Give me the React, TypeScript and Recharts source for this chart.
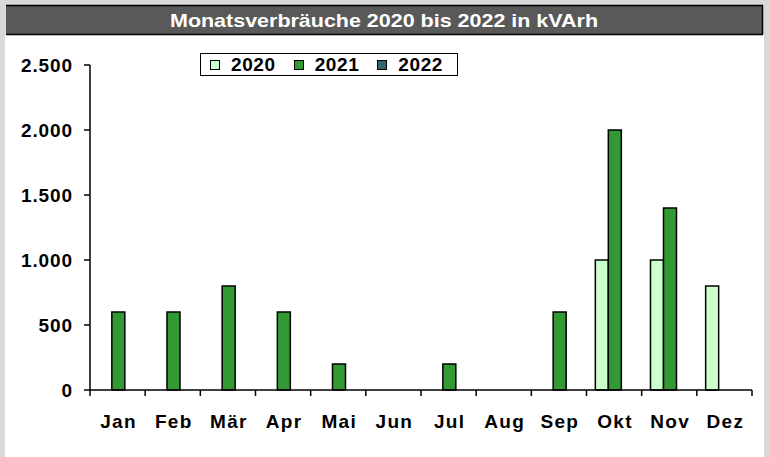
import React from 'react';
import { BarChart, Bar, XAxis, YAxis, Legend } from 'recharts';

const months = ['Jan', 'Feb', 'Mär', 'Apr', 'Mai', 'Jun', 'Jul', 'Aug', 'Sep', 'Okt', 'Nov', 'Dez'];
const values2020 = [0, 0, 0, 0, 0, 0, 0, 0, 0, 1000, 1000, 800];
const values2021 = [600, 600, 800, 600, 200, 0, 200, 0, 600, 2000, 1400, 0];
const values2022 = [0, 0, 0, 0, 0, 0, 0, 0, 0, 0, 0, 0];
const yTicks = [0, 500, 1000, 1500, 2000, 2500];
const seriesNames = ['2020', '2021', '2022'];
const seriesColors = ['#ccffcc', '#339933', '#336666'];
const title = 'Monatsverbräuche 2020 bis 2022 in kVArh';

const seriesValues = [values2020, values2021, values2022];
const data = months.map((m, i) => {
  const row: any = { month: m };
  seriesNames.forEach((s, k) => {
    row[s] = seriesValues[k][i];
  });
  return row;
});

const FONT = '"Liberation Sans", Arial, Helvetica, sans-serif';

const fmt = (v: number) => String(v).replace(/\B(?=(\d{3})+(?!\d))/g, '.');

const YTick = (props: any) => {
  const { x, y, payload } = props;
  return (
    <text x={x + 1} y={y} dy={6.8} textAnchor="end" fontFamily={FONT} fontWeight="bold" fontSize={19} letterSpacing={0.9} fill="#000">
      {fmt(payload.value)}
    </text>
  );
};

const XTick = (props: any) => {
  const { x, y, payload, index } = props;
  const half = payload.offset ?? 0;
  const left = payload.coordinate - half;
  const right = payload.coordinate + half;
  return (
    <g>
      <line x1={left} x2={left} y1={y} y2={y + 6} stroke="#000" strokeWidth={1.5} />
      {index === months.length - 1 && (
        <line x1={right} x2={right} y1={y} y2={y + 6} stroke="#000" strokeWidth={1.5} />
      )}
      <text x={x + 1} y={y + 37.5} textAnchor="middle" fontFamily={FONT} fontWeight="bold" fontSize={19} letterSpacing={1.3} fill="#000">
        {payload.value}
      </text>
    </g>
  );
};

const LegendContent = (props: any) => {
  const { payload } = props;
  return (
    <div
      style={{
        boxSizing: 'border-box',
        width: 258,
        height: 23,
        border: '1.5px solid #000',
        background: '#fff',
        display: 'flex',
        alignItems: 'center',
        fontFamily: FONT,
        fontWeight: 'bold',
        fontSize: 19,
        color: '#000',
      }}
    >
      {(payload || []).map((p: any, i: number) => (
        <div key={p.value} style={{ display: 'flex', alignItems: 'center', marginLeft: i === 0 ? 9 : 18 }}>
          <span
            style={{
              boxSizing: 'border-box',
              display: 'inline-block',
              width: 10,
              height: 10,
              border: '1px solid #000',
              background: p.color,
              marginRight: 11,
            }}
          />
          <span style={{ letterSpacing: 0.6, lineHeight: '19px' }}>{p.value}</span>
        </div>
      ))}
    </div>
  );
};

export default function App() {
  return (
    <div style={{ position: 'absolute', left: 0, top: 0, width: 770, height: 457, overflow: 'hidden' }}>
      <svg width={770} height={457} style={{ position: 'absolute', left: 0, top: 0 }}>
        <rect x={0} y={0} width={770} height={457} fill="#d9d9d9" />
        <rect x={5} y={34} width={759} height={423} fill="#ffffff" />
        <rect x={6} y={5} width={757} height={30} fill="#595959" />
        <line x1={6} x2={763} y1={5.5} y2={5.5} stroke="#000" strokeWidth={1.5} />
        <line x1={762.5} x2={762.5} y1={5} y2={35} stroke="#000" strokeWidth={1.5} />
        <line x1={6} x2={763} y1={34.5} y2={34.5} stroke="#000" strokeWidth={1.5} />
        <text x={170} y={26.8} textLength={428} lengthAdjust="spacingAndGlyphs" fontFamily={FONT} fontWeight="bold" fontSize={19} fill="#ffffff">
          {title}
        </text>
      </svg>
      <div style={{ position: 'absolute', left: 0, top: 0 }}>
        <BarChart
          width={770}
          height={457}
          data={data}
          margin={{ top: 65, right: 18, left: 0, bottom: 27 }}
          barCategoryGap="16%"
          barGap={0}
        >
          <XAxis
            dataKey="month"
            interval={0}
            height={40}
            tickSize={0}
            tickMargin={0}
            tickLine={false}
            axisLine={{ stroke: '#000', strokeWidth: 1.5 }}
            tick={<XTick />}
          />
          <YAxis
            domain={[0, 2500]}
            ticks={yTicks}
            interval={0}
            width={90}
            tickSize={6}
            tickMargin={12}
            tickLine={{ stroke: '#000', strokeWidth: 1.5 }}
            axisLine={{ stroke: '#000', strokeWidth: 1.5 }}
            tick={<YTick />}
          />
          <Legend
            layout="vertical"
            verticalAlign="middle"
            align="center"
            wrapperStyle={{ left: 200, top: 53, width: 258, height: 23 }}
            content={<LegendContent />}
          />
          {seriesNames.map((s, k) => (
            <Bar
              key={s}
              dataKey={s}
              name={s}
              fill={seriesColors[k]}
              stroke="#000"
              strokeWidth={1.5}
              legendType="square"
              isAnimationActive={false}
            />
          ))}
        </BarChart>
      </div>
    </div>
  );
}
